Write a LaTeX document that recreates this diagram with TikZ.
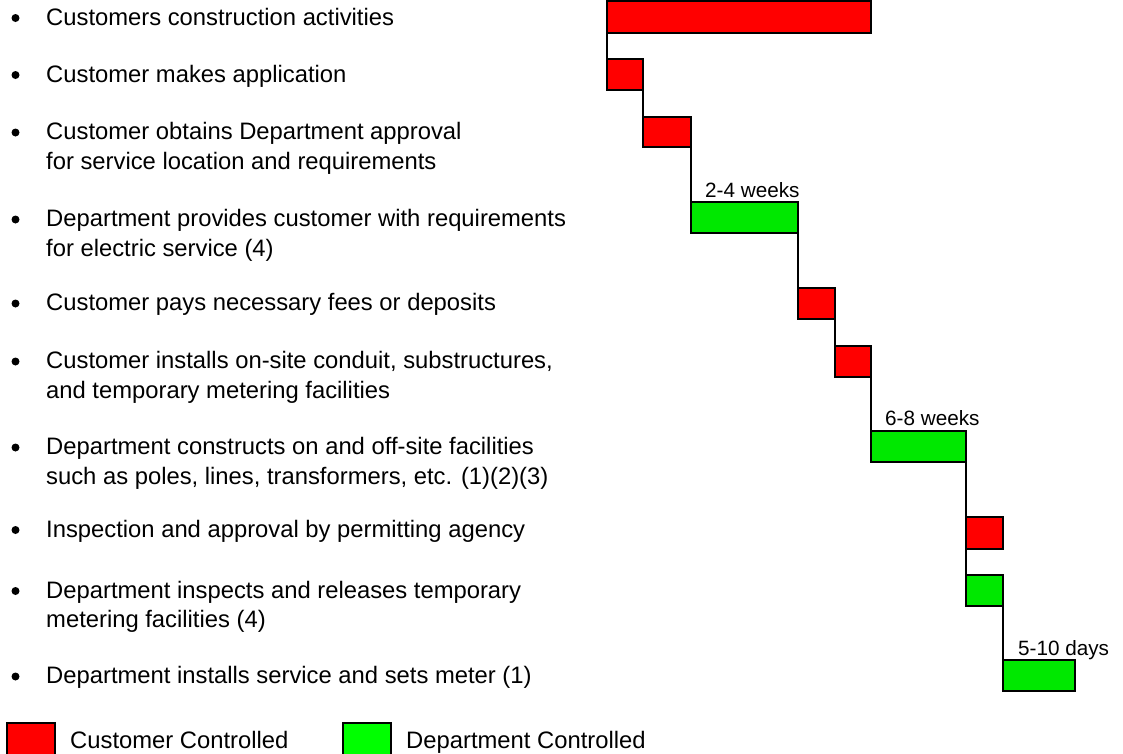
\documentclass[tikz,border=0pt]{standalone}
\usepackage{fontspec}
\setmainfont{Liberation Sans}
\definecolor{cred}{RGB}{255,0,0}
\definecolor{cgreen}{RGB}{0,232,0}
\definecolor{lgreen}{RGB}{0,255,0}
\begin{document}
\begin{tikzpicture}[x=1pt,y=-1pt,
  bar/.style={draw=black,line width=2pt,inner sep=0pt,outer sep=0pt,anchor=north west},
  cust/.style={bar,fill=cred},
  dept/.style={bar,fill=cgreen},
  conn/.style={draw=black,line width=2pt},
  item/.style={anchor=base west,inner sep=0pt,font=\fontsize{23.8}{29.5}\selectfont},
  lbl/.style={anchor=base west,inner sep=0pt,font=\fontsize{20.7}{24}\selectfont},
  dot/.style={circle,fill=black,inner sep=0pt,minimum size=8pt}]
\clip (0,0) rectangle (1123,753);
\useasboundingbox (0,0) rectangle (1123,753);
\fill[white] (0,0) rectangle (1123,753);
% bars
\node[cust,minimum width=264pt,minimum height=32pt] (b1) at (607,1) {};
\node[cust,minimum width=36pt,minimum height=31pt] (b2) at (607,59) {};
\node[cust,minimum width=48pt,minimum height=30pt] (b3) at (643,117) {};
\node[dept,minimum width=107pt,minimum height=31pt] (b4) at (691,202) {};
\node[cust,minimum width=37pt,minimum height=31pt] (b5) at (798,288) {};
\node[cust,minimum width=36pt,minimum height=31pt] (b6) at (835,346) {};
\node[dept,minimum width=95pt,minimum height=31pt] (b7) at (871,431) {};
\node[cust,minimum width=37pt,minimum height=32pt] (b8) at (966,517) {};
\node[dept,minimum width=37pt,minimum height=31pt] (b9) at (966,575) {};
\node[dept,minimum width=72pt,minimum height=31pt] (b10) at (1003,660) {};
% connectors
\draw[conn] (b1.south west) -- (b2.north west);
\draw[conn] (b2.south east) -- (b3.north west);
\draw[conn] (b3.south east) -- (b4.north west);
\draw[conn] (b4.south east) -- (b5.north west);
\draw[conn] (b5.south east) -- (b6.north west);
\draw[conn] (b6.south east) -- (b7.north west);
\draw[conn] (b7.south east) -- (b8.north west);
\draw[conn] (b8.south west) -- (b9.north west);
\draw[conn] (b9.south east) -- (b10.north west);
% duration labels
\node[lbl] (l1) at (705,197) {2-4 weeks};
\node[lbl] (l2) at (885,425) {6-8 weeks};
\node[lbl] (l3) at (1018,655) {5-10 days};
% items
\node[dot] (d1) at (15.5,18) {};
\node[item] (t1) at (46,25) {Customers construction activities};
\node[dot] (d2) at (15.5,75) {};
\node[item] (t2) at (46,82) {Customer makes application};
\node[dot] (d3) at (15.5,132.5) {};
\node[item] (t3a) at (46,139.5) {Customer obtains Department approval};
\node[item] (t3b) at (46,169) {for service location and requirements};
\node[dot] (d4) at (15.5,219.5) {};
\node[item] (t4a) at (46,226.5) {Department provides customer with requirements};
\node[item] (t4b) at (46,256) {for electric service (4)};
\node[dot] (d5) at (15.5,303.5) {};
\node[item] (t5) at (46,310.5) {Customer pays necessary fees or deposits};
\node[dot] (d6) at (15.5,361.5) {};
\node[item] (t6a) at (46,368.5) {Customer installs on-site conduit, substructures,};
\node[item] (t6b) at (46,398) {and temporary metering facilities};
\node[dot] (d7) at (15.5,447.5) {};
\node[item] (t7a) at (46,454.5) {Department constructs on and off-site facilities};
\node[item] (t7b) at (46,484) {such as poles, lines, transformers, etc. (1)(2)(3)};
\node[dot] (d8) at (15.5,530) {};
\node[item] (t8) at (46,537) {Inspection and approval by permitting agency};
\node[dot] (d9) at (15.5,591) {};
\node[item] (t9a) at (46,598) {Department inspects and releases temporary};
\node[item] (t9b) at (46,627.5) {metering facilities (4)};
\node[dot] (d10) at (15.5,676.5) {};
\node[item] (t10) at (46,683.5) {Department installs service and sets meter (1)};
% legend
\node[bar,fill=cred,minimum width=48.5pt,minimum height=40pt] (k1) at (6.5,723) {};
\node[item] (k1t) at (70,748) {Customer Controlled};
\node[bar,fill=lgreen,minimum width=48pt,minimum height=40pt] (k2) at (343,723) {};
\node[item] (k2t) at (406,748) {Department Controlled};
\end{tikzpicture}
\end{document}
